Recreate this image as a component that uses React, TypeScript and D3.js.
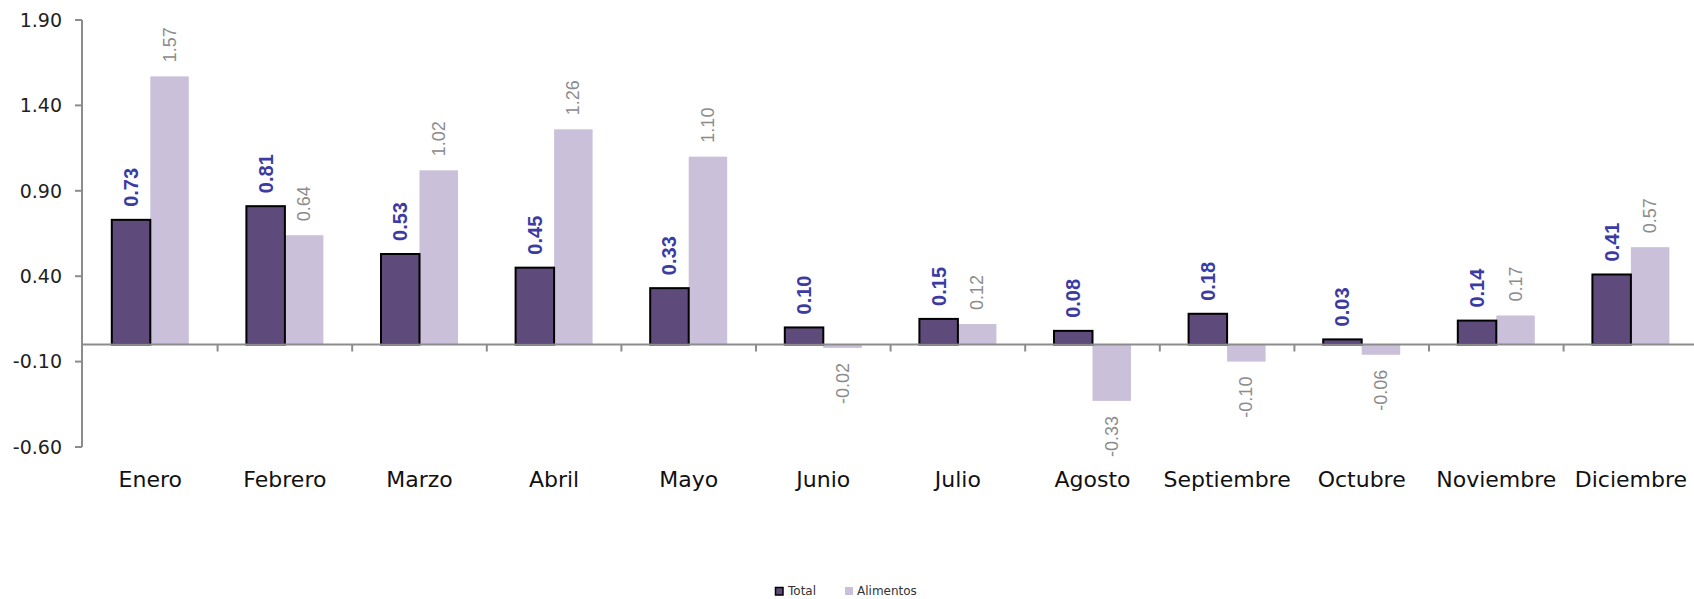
import React from "react";
import * as d3 from "d3";

const months = ["Enero","Febrero","Marzo","Abril","Mayo","Junio","Julio","Agosto","Septiembre","Octubre","Noviembre","Diciembre"];
const totalValues = [0.73,0.81,0.53,0.45,0.33,0.10,0.15,0.08,0.18,0.03,0.14,0.41];
const alimentosValues = [1.57,0.64,1.02,1.26,1.10,-0.02,0.12,-0.33,-0.10,-0.06,0.17,0.57];
const yTicks = [-0.6,-0.1,0.4,0.9,1.4,1.9];
const seriesNames = ["Total","Alimentos"];

const W = 1694, H = 599;
const TOTAL_FILL = "#5f4b7b";
const ALI_FILL = "#cbc0da";
const AXIS = "#8c8c8c";

export default function App() {
  const y = d3.scaleLinear().domain([-0.6, 1.9]).range([447, 20]);
  const x = d3.scaleBand<string>().domain(months).range([83, 83 + 12 * 134.6]).paddingInner(0).paddingOuter(0);
  const x1 = d3.scaleBand<string>().domain(seriesNames).range([0, x.bandwidth()]).paddingInner(0).paddingOuter(0.748);
  const y0 = y(0);
  const axisX = 82;

  return (
    <svg width={W} height={H} style={{ position: "absolute", left: 0, top: 0, background: "#fff" }}>
      <line x1={axisX} x2={axisX} y1={y(1.9)} y2={y(-0.6)} stroke={AXIS} strokeWidth={2} />
      {yTicks.map((t) => (
        <g key={t}>
          <line x1={axisX - 7} x2={axisX} y1={y(t)} y2={y(t)} stroke={AXIS} strokeWidth={2} />
          <text x={62} y={y(t)} dy="0.36em" textAnchor="end" fontFamily="DejaVu Sans" fontSize={19} fill="#222">
            {t.toFixed(2)}
          </text>
        </g>
      ))}
      {months.map((m, i) => {
        const bx = x(m)!;
        const tv = totalValues[i];
        const av = alimentosValues[i];
        const tx = bx + x1("Total")!;
        const ax = bx + x1("Alimentos")!;
        const bw = x1.bandwidth();
        return (
          <g key={m}>
            <rect x={ax} y={Math.min(y(av), y0)} width={bw} height={Math.abs(y(av) - y0)} fill={ALI_FILL} />
            <rect x={tx} y={Math.min(y(tv), y0)} width={bw} height={Math.abs(y(tv) - y0)} fill={TOTAL_FILL} stroke="#000" strokeWidth={2} />
          </g>
        );
      })}
      <line x1={axisX} x2={W} y1={y0} y2={y0} stroke={AXIS} strokeWidth={2} />
      {months.slice(1).map((m) => (
        <line key={m} x1={x(m)!} x2={x(m)!} y1={y0} y2={y0 + 7} stroke={AXIS} strokeWidth={2} />
      ))}
      {months.map((m, i) => {
        const bx = x(m)!;
        const tv = totalValues[i];
        const av = alimentosValues[i];
        const tcx = bx + x1("Total")! + x1.bandwidth() / 2;
        const acx = bx + x1("Alimentos")! + x1.bandwidth() / 2;
        const tY = tv >= 0 ? y(tv) - 13 : y(tv) + 15;
        const aY = av >= 0 ? y(av) - 14 : y(av) + 15;
        return (
          <g key={m}>
            <text transform={`translate(${tcx},${tY}) rotate(-90)`} textAnchor={tv >= 0 ? "start" : "end"} dominantBaseline="central"
              fontFamily="Liberation Sans" fontWeight="bold" fontSize={20} fill="#3b3ba3">
              {tv.toFixed(2)}
            </text>
            <text transform={`translate(${acx},${aY}) rotate(-90)`} textAnchor={av >= 0 ? "start" : "end"} dominantBaseline="central"
              fontFamily="Liberation Sans" fontSize={18} fill="#8c8c8c">
              {av.toFixed(2)}
            </text>
            <text x={bx + x.bandwidth() / 2} y={487} textAnchor="middle" fontFamily="DejaVu Sans" fontSize={22} fill="#111">
              {m}
            </text>
          </g>
        );
      })}
      <rect x={775.5} y={587.5} width={7.5} height={7.5} fill={TOTAL_FILL} stroke="#000" strokeWidth={1.5} />
      <text x={788} y={595} fontFamily="DejaVu Sans" fontSize={12} fill="#333">Total</text>
      <rect x={845} y={587} width={8} height={8} fill={ALI_FILL} />
      <text x={857} y={595} fontFamily="DejaVu Sans" fontSize={12} fill="#333">Alimentos</text>
    </svg>
  );
}
